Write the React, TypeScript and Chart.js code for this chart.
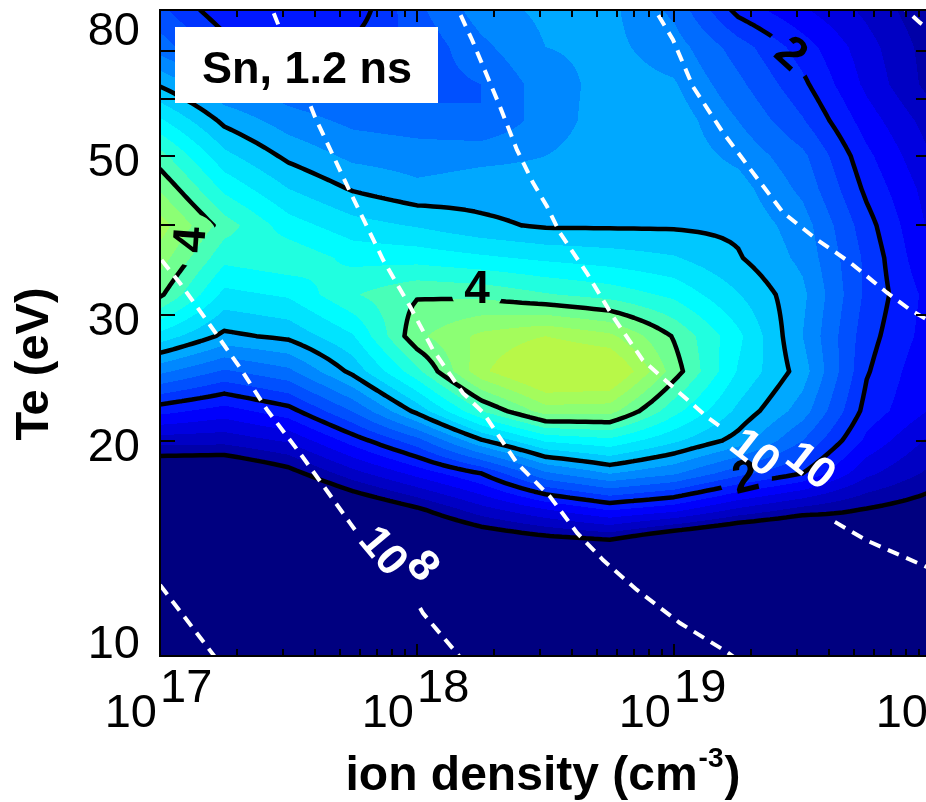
import React, { useEffect, useRef } from "react";
import { Chart, registerables } from "chart.js";

Chart.register(...registerables);

const FONT = '"Liberation Sans", Arial, Helvetica, sans-serif';

// ---------- contour field values ----------
const LOG_DENSITY = [17, 17.25, 17.5, 17.75, 18, 18.25, 18.5, 18.75, 19, 19.25, 19.5, 19.75, 20];
const TE_ROWS = [10, 12, 14, 16, 18, 20, 22, 25, 28, 32, 36, 40, 45, 50, 56, 63, 71, 80];

const Z_TE10 = [0, 0, 0, 0, 0, 0, 0, 0, 0, 0, 0, 0, 0];
const Z_TE12 = [0, 0, 0, 0, 0, 0, 0, 0, 0, 0, 0, 0.3, 0.3];
const Z_TE14 = [0, 0, 0, 0, 0.35, 0.54, 0.64, 0.68, 0.34, 0.22, 0.17, 0.66, 0.6];
const Z_TE16 = [0, 0.11, 0.3, 0.66, 0.95, 1.31, 1.58, 1.81, 1.66, 1.35, 1.12, 0.98, 0.85];
const Z_TE18 = [0.67, 0.65, 0.9, 1.32, 1.67, 2.0, 2.56, 2.81, 2.63, 2.27, 2.0, 1.45, 1.15];
const Z_TE20 = [1.29, 1.27, 1.43, 1.89, 2.32, 2.97, 3.43, 3.54, 3.24, 2.92, 2.4, 1.75, 1.35];
const Z_TE22 = [1.87, 1.71, 1.92, 2.41, 3.06, 3.8, 4.3, 4.28, 3.67, 3.15, 2.7, 1.92, 1.58];
const Z_TE25 = [2.65, 2.37, 2.55, 3.06, 3.74, 4.55, 4.95, 4.9, 4.1, 3.38, 2.9, 2.02, 1.62];
const Z_TE28 = [3.32, 2.95, 3.05, 3.38, 4.15, 4.45, 4.6, 4.45, 3.98, 3.45, 2.8, 2.08, 1.7];
const Z_TE32 = [4.04, 3.34, 3.43, 3.78, 3.98, 3.95, 3.82, 3.72, 3.55, 3.21, 2.85, 2.15, 1.72];
const Z_TE36 = [4.3, 3.66, 3.75, 3.54, 3.52, 3.44, 3.36, 3.3, 3.22, 3.02, 2.75, 2.15, 1.6];
const Z_TE40 = [4.5, 3.9, 3.49, 3.28, 3.18, 3.05, 2.97, 2.97, 2.97, 2.95, 2.7, 2.08, 1.55];
const Z_TE45 = [4.18, 3.55, 3.2, 2.98, 2.85, 2.9, 2.88, 2.93, 2.93, 2.88, 2.55, 1.95, 1.5];
const Z_TE50 = [3.88, 3.26, 2.95, 2.75, 2.7, 2.75, 2.8, 2.9, 2.92, 2.75, 2.45, 1.85, 1.4];
const Z_TE56 = [3.44, 2.95, 2.7, 2.55, 2.5, 2.4, 2.7, 2.9, 2.92, 2.6, 2.22, 1.7, 1.3];
const Z_TE63 = [2.97, 2.6, 2.45, 2.35, 2.3, 2.4, 2.7, 2.88, 2.82, 2.45, 2.05, 1.55, 1.12];
const Z_TE71 = [2.5, 2.1, 2.05, 2.05, 2.25, 2.55, 2.8, 2.85, 2.7, 2.3, 1.9, 1.48, 1.1];
const Z_TE80 = [2.25, 1.85, 1.84, 1.86, 2.35, 2.7, 2.85, 2.85, 2.55, 1.93, 1.63, 1.35, 1.03];

const Z_ROWS = [
  Z_TE10, Z_TE12, Z_TE14, Z_TE16, Z_TE18, Z_TE20, Z_TE22, Z_TE25, Z_TE28,
  Z_TE32, Z_TE36, Z_TE40, Z_TE45, Z_TE50, Z_TE56, Z_TE63, Z_TE71, Z_TE80,
];

// filled-contour levels and their colours
const BAND_LEVELS = [1, 1.2, 1.4, 1.6, 1.8, 2, 2.2, 2.4, 2.6, 2.8, 3, 3.2, 3.4, 3.6, 3.8, 4, 4.2, 4.4, 4.6];
const BAND_COLORS = [
  "#000080", "#0000a8", "#0000c4", "#0000e0", "#0000fc", "#0018ff", "#0034ff",
  "#0050ff", "#006cff", "#0088ff", "#00a8ff", "#00c8ff", "#00e4ff", "#00fcff",
  "#20ffe0", "#48ffb8", "#70ff90", "#8cff74", "#a4fc5c", "#b8f848",
];
const LINE_LEVELS = [1, 2, 3, 4];

// black contour labels
const CLABEL_TEXT = ["4", "4", "2", "2"];
const CLABEL_LOGN = [18.2335, 17.1245, 19.451, 19.28];
const CLABEL_TE = [32.5, 38.17, 69.3, 17.69];
const CLABEL_ANGLE = [0, -86, 42, -13];

// white dashed curves (density exponent, Te); null = gap for a label
const NE7_LOGN = [16.95, 17.0, 17.214, 17.26];
const NE7_TE = [13.2, 12.57, 9.97, 9.5];
const NE8_LOGN = [16.961, 17.0, 17.078, 17.195, 17.311, 17.416, 17.545, 17.739, 17.759, null, 18.012, 18.023, 18.167, 18.206];
const NE8_TE = [37.7, 36.0, 33.2, 29.0, 25.3, 22.1, 19.2, 15.35, 15.0, null, 11.67, 11.48, 9.97, 9.56];
const NE9_LOGN = [17.412, 17.44, 17.603, 17.739, 17.868, 17.973, 18.062, 18.179, 18.257, 18.389, 18.518, 18.623, 18.724, 18.856, 19.023, 19.206, 19.276];
const NE9_TE = [84.0, 79.6, 56.7, 44.6, 35.8, 30.8, 26.8, 23.3, 21.9, 18.6, 16.7, 14.86, 13.62, 12.37, 11.12, 10.13, 9.71];
const NE10_LOGN = [18.14, 18.16, 18.214, 18.323, 18.389, 18.451, 18.506, 18.556, 18.661, 18.763, 18.879, 19.023, 19.128, 19.198, null, 19.626, 19.751, 19.946, 20.035];
const NE10_TE = [83.5, 80.1, 72.7, 58.6, 51.0, 45.9, 42.5, 39.05, 34.3, 29.8, 25.9, 23.3, 21.6, 20.7, null, 15.4, 14.5, 13.5, 13.07];
const NE11_LOGN = [18.911, 18.926, 18.996, 19.074, 19.191, 19.307, 19.424, 19.556, 19.685, 19.829, 19.918, 20.035];
const NE11_TE = [83.5, 80.1, 72.7, 62.5, 53.9, 47.4, 41.7, 38.2, 35.5, 32.2, 30.5, 28.8];
const NE12_LOGN = [19.872, 19.957, 20.035];
const NE12_TE = [81.9, 76.8, 73.2];

// white curve labels ("10" with raised exponent)
const WLABEL_BASE = ["10", "10"];
const WLABEL_EXP = ["8", "10"];
const WLABEL_LOGN = [17.864, 19.311];
const WLABEL_TE = [13.98, 19.17];
const WLABEL_ANGLE = [50, 38];

// axes
const X_MAJOR = [1e17, 1e18, 1e19, 1e20];
const X_EXPONENT = ["17", "18", "19", "20"];
const Y_TICKS = [20, 30, 40, 50, 60, 70];
const Y_LABELS = [10, 20, 30, 50, 80];

function searchIndex(arr: number[], v: number) {
  let k = 0;
  while (k < arr.length - 2 && v > arr[k + 1]) k++;
  return k;
}
function hexToRgb(h: string) {
  return [parseInt(h.slice(1, 3), 16), parseInt(h.slice(3, 5), 16), parseInt(h.slice(5, 7), 16)];
}
function toPoints(logn: (number | null)[], te: (number | null)[]) {
  return logn.map((u, i) =>
    u === null || te[i] === null ? { x: null, y: null } : { x: Math.pow(10, u as number), y: te[i] }
  );
}

function blackLabelPixels(chart: any) {
  const xs = chart.scales.x, ys = chart.scales.y;
  return CLABEL_TEXT.map((t, i) => ({
    t,
    x: xs.getPixelForValue(Math.pow(10, CLABEL_LOGN[i])),
    y: ys.getPixelForValue(CLABEL_TE[i]),
    a: CLABEL_ANGLE[i],
  }));
}

const fieldPlugin = {
  id: "contourField",
  beforeDatasetsDraw(chart: any) {
    const { ctx, chartArea: a, scales } = chart;
    const xs = scales.x, ys = scales.y;
    const left = Math.round(a.left), top = Math.round(a.top);
    const w = Math.round(a.right) - left, h = Math.round(a.bottom) - top;
    const V = TE_ROWS.map((t) => Math.log10(t));
    const ci = new Int32Array(w), cf = new Float64Array(w);
    for (let i = 0; i < w; i++) {
      const u = Math.log10(xs.getValueForPixel(left + i + 0.5));
      const k = searchIndex(LOG_DENSITY, u);
      ci[i] = k;
      cf[i] = Math.min(1, Math.max(0, (u - LOG_DENSITY[k]) / (LOG_DENSITY[k + 1] - LOG_DENSITY[k])));
    }
    const ri = new Int32Array(h), rf = new Float64Array(h);
    for (let r = 0; r < h; r++) {
      const v = Math.log10(ys.getValueForPixel(top + r + 0.5));
      const k = searchIndex(V, v);
      ri[r] = k;
      rf[r] = Math.min(1, Math.max(0, (v - V[k]) / (V[k + 1] - V[k])));
    }
    const rgb = BAND_COLORS.map(hexToRgb);
    const img = ctx.createImageData(w, h);
    const d = img.data;
    for (let r = 0; r < h; r++) {
      const j = ri[r], t = rf[r];
      const r0 = Z_ROWS[j], r1 = Z_ROWS[j + 1];
      for (let c = 0; c < w; c++) {
        const i = ci[c], s = cf[c];
        const z = (r0[i] * (1 - s) + r0[i + 1] * s) * (1 - t) + (r1[i] * (1 - s) + r1[i + 1] * s) * t;
        let b = 0;
        while (b < BAND_LEVELS.length && z >= BAND_LEVELS[b]) b++;
        const col = rgb[b];
        const p = (r * w + c) * 4;
        d[p] = col[0]; d[p + 1] = col[1]; d[p + 2] = col[2]; d[p + 3] = 255;
      }
    }
    ctx.putImageData(img, left, top);

    // black contour lines (marching squares on a refined bilinear grid)
    const S = 8;
    const segs: number[][] = [];
    const px = (u: number) => xs.getPixelForValue(Math.pow(10, u));
    const py = (v: number) => ys.getPixelForValue(Math.pow(10, v));
    for (const L of LINE_LEVELS) {
      for (let j = 0; j < V.length - 1; j++) {
        for (let i = 0; i < LOG_DENSITY.length - 1; i++) {
          const z00 = Z_ROWS[j][i], z10 = Z_ROWS[j][i + 1], z01 = Z_ROWS[j + 1][i], z11 = Z_ROWS[j + 1][i + 1];
          if (L < Math.min(z00, z10, z01, z11) || L > Math.max(z00, z10, z01, z11)) continue;
          const bil = (s: number, t: number) =>
            z00 * (1 - s) * (1 - t) + z10 * s * (1 - t) + z01 * (1 - s) * t + z11 * s * t;
          const U0 = LOG_DENSITY[i], dU = LOG_DENSITY[i + 1] - U0, V0 = V[j], dV = V[j + 1] - V0;
          for (let bb = 0; bb < S; bb++) {
            for (let aa = 0; aa < S; aa++) {
              const s0 = aa / S, s1 = (aa + 1) / S, t0 = bb / S, t1 = (bb + 1) / S;
              const A = [s0, t0, bil(s0, t0)], B = [s1, t0, bil(s1, t0)];
              const C = [s1, t1, bil(s1, t1)], D = [s0, t1, bil(s0, t1)];
              const cross = (p: number[], q: number[]) => {
                if ((p[2] >= L) === (q[2] >= L)) return null;
                const f = (L - p[2]) / (q[2] - p[2]);
                const s = p[0] + (q[0] - p[0]) * f, t = p[1] + (q[1] - p[1]) * f;
                return [px(U0 + s * dU), py(V0 + t * dV)];
              };
              const e = [cross(A, B), cross(B, C), cross(C, D), cross(D, A)];
              const found = e.filter((q) => q !== null) as number[][];
              if (found.length === 2) segs.push([found[0][0], found[0][1], found[1][0], found[1][1]]);
              else if (found.length === 4) {
                const center = (A[2] + B[2] + C[2] + D[2]) / 4;
                const e0 = e[0]!, e1 = e[1]!, e2 = e[2]!, e3 = e[3]!;
                if ((A[2] >= L) === (center >= L)) {
                  segs.push([e0[0], e0[1], e1[0], e1[1]]);
                  segs.push([e2[0], e2[1], e3[0], e3[1]]);
                } else {
                  segs.push([e3[0], e3[1], e0[0], e0[1]]);
                  segs.push([e1[0], e1[1], e2[0], e2[1]]);
                }
              }
            }
          }
        }
      }
    }
    ctx.save();
    ctx.beginPath();
    ctx.rect(a.left, a.top, a.right - a.left, a.bottom - a.top);
    for (const lb of blackLabelPixels(chart)) {
      ctx.moveTo(lb.x + 26, lb.y);
      ctx.arc(lb.x, lb.y, 26, 0, Math.PI * 2, true);
    }
    ctx.clip("evenodd");
    ctx.strokeStyle = "#000";
    ctx.lineWidth = 4.5;
    ctx.lineCap = "round";
    ctx.lineJoin = "round";
    ctx.beginPath();
    for (const sg of segs) {
      ctx.moveTo(sg[0], sg[1]);
      ctx.lineTo(sg[2], sg[3]);
    }
    ctx.stroke();
    ctx.restore();
  },
};

const overlayPlugin = {
  id: "overlay",
  afterDatasetsDraw(chart: any) {
    const { ctx, scales } = chart;
    const xs = scales.x, ys = scales.y;
    ctx.save();
    // black contour labels
    ctx.fillStyle = "#000";
    ctx.font = `bold 46px ${FONT}`;
    ctx.textAlign = "center";
    ctx.textBaseline = "middle";
    for (const lb of blackLabelPixels(chart)) {
      ctx.save();
      ctx.translate(lb.x, lb.y);
      ctx.rotate((lb.a * Math.PI) / 180);
      ctx.fillText(lb.t, 0, 0);
      ctx.restore();
    }
    // white curve labels
    ctx.fillStyle = "#fff";
    ctx.font = `bold 44px ${FONT}`;
    const expOffset = [[37, 21], [52, 24]];
    WLABEL_BASE.forEach((base, i) => {
      const x = xs.getPixelForValue(Math.pow(10, WLABEL_LOGN[i]));
      const y = ys.getPixelForValue(WLABEL_TE[i]);
      ctx.save();
      ctx.translate(x, y);
      ctx.rotate((WLABEL_ANGLE[i] * Math.PI) / 180);
      ctx.fillText(base, 0, 0);
      ctx.fillText(WLABEL_EXP[i], expOffset[i][0], -expOffset[i][1]);
      ctx.restore();
    });
    // title box
    ctx.fillStyle = "#fff";
    ctx.fillRect(175, 27, 263, 76);
    ctx.fillStyle = "#000";
    ctx.font = `bold 45px ${FONT}`;
    ctx.textAlign = "center";
    ctx.textBaseline = "alphabetic";
    ctx.fillText("Sn, 1.2 ns", 307, 83);
    ctx.restore();
  },
  afterDraw(chart: any) {
    const { ctx, chartArea: a, scales } = chart;
    const xs = scales.x, ys = scales.y;
    const L = Math.round(a.left), R = Math.round(a.right), T = Math.round(a.top), B = Math.round(a.bottom);
    ctx.save();
    ctx.strokeStyle = "#000";
    ctx.lineWidth = 2;
    ctx.strokeRect(L, T, R - L, B - T);
    ctx.beginPath();
    for (let e = 17; e <= 19; e++) {
      for (let k = 1; k <= 9; k++) {
        const x = Math.round(xs.getPixelForValue(k * Math.pow(10, e)));
        const len = k === 1 ? 12 : 7;
        ctx.moveTo(x, B); ctx.lineTo(x, B - len);
        ctx.moveTo(x, T); ctx.lineTo(x, T + len);
      }
    }
    for (const t of Y_TICKS) {
      const y = Math.round(ys.getPixelForValue(t));
      ctx.moveTo(L, y); ctx.lineTo(L + 15, y);
      ctx.moveTo(R, y); ctx.lineTo(R - 15, y);
    }
    ctx.stroke();

    ctx.fillStyle = "#000";
    ctx.font = `47px ${FONT}`;
    ctx.textBaseline = "alphabetic";
    X_MAJOR.forEach((v, i) => {
      const x = Math.round(xs.getPixelForValue(v));
      ctx.textAlign = "right";
      ctx.fillText("10", x - 3, 727);
      ctx.textAlign = "left";
      ctx.fillText(X_EXPONENT[i], x, 702);
    });
    ctx.textAlign = "right";
    for (const v of Y_LABELS) {
      const y = ys.getPixelForValue(v);
      const base = Math.min(658, Math.max(45, y + 20));
      ctx.fillText(String(v), 140, base);
    }

    // axis titles
    ctx.save();
    ctx.translate(48, 364);
    ctx.rotate(-Math.PI / 2);
    ctx.font = `bold 47px ${FONT}`;
    ctx.textAlign = "center";
    ctx.fillText("Te (eV)", 0, 0);
    ctx.restore();

    const main = "ion density (cm";
    const sup = "-3";
    const close = ")";
    ctx.font = `bold 48px ${FONT}`;
    const w1 = ctx.measureText(main).width;
    const w3 = ctx.measureText(close).width;
    ctx.font = `bold 28px ${FONT}`;
    const w2 = ctx.measureText(sup).width;
    const x0 = 542 - (w1 + w2 + w3) / 2;
    ctx.textAlign = "left";
    ctx.font = `bold 48px ${FONT}`;
    ctx.fillText(main, x0, 790);
    ctx.font = `bold 28px ${FONT}`;
    ctx.fillText(sup, x0 + w1 + 1, 767);
    ctx.font = `bold 48px ${FONT}`;
    ctx.fillText(close, x0 + w1 + w2 + 2, 790);
    ctx.restore();
  },
};

function whiteDataset(logn: (number | null)[], te: (number | null)[]) {
  return {
    data: toPoints(logn, te),
    showLine: true,
    borderColor: "#ffffff",
    backgroundColor: "#ffffff",
    borderWidth: 4,
    borderDash: [12, 8],
    borderCapStyle: "butt",
    pointRadius: 0,
    pointHoverRadius: 0,
    fill: false,
    tension: 0,
    spanGaps: false,
    clip: 0,
  };
}

export default function App() {
  const ref = useRef<HTMLCanvasElement | null>(null);
  useEffect(() => {
    const canvas = ref.current!;
    const chart = new Chart(canvas, {
      type: "scatter",
      data: {
        datasets: [
          whiteDataset(NE7_LOGN, NE7_TE),
          whiteDataset(NE8_LOGN, NE8_TE),
          whiteDataset(NE9_LOGN, NE9_TE),
          whiteDataset(NE10_LOGN, NE10_TE),
          whiteDataset(NE11_LOGN, NE11_TE),
          whiteDataset(NE12_LOGN, NE12_TE),
        ] as any,
      },
      options: {
        responsive: false,
        animation: false,
        devicePixelRatio: 1,
        events: [],
        layout: { padding: { left: 160, right: 29, top: 10, bottom: 146 } },
        plugins: { legend: { display: false }, tooltip: { enabled: false } },
        scales: {
          x: { type: "logarithmic", min: 1e17, max: 1e20, display: false },
          y: { type: "logarithmic", min: 10, max: 80, display: false },
        },
      } as any,
      plugins: [fieldPlugin, overlayPlugin],
    });
    return () => chart.destroy();
  }, []);
  return (
    <div style={{ position: "absolute", left: 0, top: 0, width: 926, height: 802, overflow: "hidden", background: "#fff" }}>
      <canvas ref={ref} width={960} height={802} style={{ display: "block", width: 960, height: 802 }} />
    </div>
  );
}
